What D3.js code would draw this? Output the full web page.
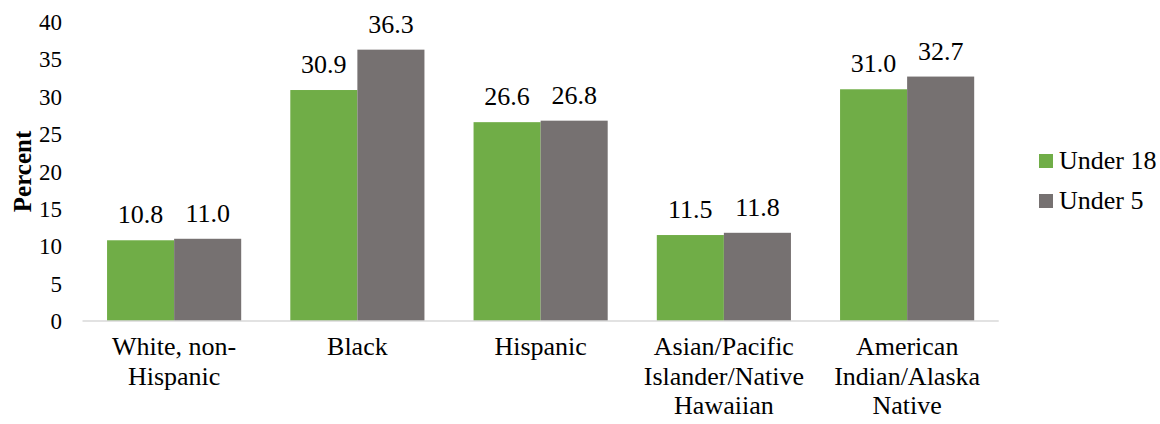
<html>
<head>
<meta charset="UTF-8">
<script src="https://d3js.org/d3.v7.min.js"></script>
</head>
<body style="margin:0">
<svg width="1160" height="424"></svg>
<script>
var categories = [["White, non-", "Hispanic"], ["Black"], ["Hispanic"],
                  ["Asian/Pacific", "Islander/Native", "Hawaiian"],
                  ["American", "Indian/Alaska", "Native"]];
var seriesNames = ["Under 18", "Under 5"];
var under18 = [10.8, 30.9, 26.6, 11.5, 31.0];
var under5 = [11.0, 36.3, 26.8, 11.8, 32.7];
var yTicks = [0, 5, 10, 15, 20, 25, 30, 35, 40];
var colors = ["#70ad47", "#767171"];
var FONT = "'Liberation Serif', 'Times New Roman', serif";

var svg = d3.select("svg");
var x0 = 82.5, x1 = 998.75, yTop = 22, yBot = 321;

var xscale = d3.scaleBand().domain(d3.range(categories.length)).range([x0, x1])
    .paddingInner(0.268).paddingOuter(0.134);
var inner = d3.scaleBand().domain([0, 1]).range([0, xscale.bandwidth()]);
var yscale = d3.scaleLinear().domain([0, 40]).range([yBot, yTop]);

// y tick labels
svg.append("g").selectAll("text").data(yTicks).enter().append("text")
    .attr("x", 62).attr("y", function(d){ return yscale(d) + 8; })
    .attr("text-anchor", "end")
    .style("font-family", FONT).style("font-size", "23px").text(function(d){ return d; });

svg.append("text").attr("transform", "translate(31," + yscale(20) + ") rotate(-90)")
    .attr("text-anchor", "middle").style("font-family", FONT)
    .style("font-size", "25px").style("font-weight", "bold")
    .text("Percent");

var data = [under18, under5];
data.forEach(function(vals, s){
  var g = svg.append("g");
  g.selectAll("rect").data(vals).enter().append("rect")
    .attr("x", function(d, i){ return xscale(i) + inner(s); })
    .attr("y", function(d){ return yscale(d); })
    .attr("width", inner.bandwidth())
    .attr("height", function(d){ return yBot - yscale(d); })
    .attr("fill", colors[s]);
  g.selectAll("text").data(vals).enter().append("text")
    .attr("x", function(d, i){ return xscale(i) + inner(s) + inner.bandwidth() / 2; })
    .attr("y", function(d){ return yscale(d) - 17; })
    .attr("text-anchor", "middle").style("font-family", FONT).style("font-size", "26px")
    .text(function(d){ return d.toFixed(1); });
});

// axis line
svg.append("line").attr("x1", x0).attr("x2", x1).attr("y1", yBot).attr("y2", yBot)
    .attr("stroke", "#d9d9d9").attr("stroke-width", 1.5);

// category labels
var cat = svg.append("g").selectAll("text").data(categories).enter().append("text")
    .attr("text-anchor", "middle").style("font-family", FONT).style("font-size", "26px")
    .attr("transform", function(d, i){ return "translate(" + (xscale(i) + xscale.bandwidth() / 2) + ",355)"; });
cat.selectAll("tspan").data(function(d){ return d; }).enter().append("tspan")
    .attr("x", 0).attr("y", function(d, i){ return i * 29.5; })
    .text(function(d){ return d; });

// legend
var leg = svg.append("g").selectAll("g").data(seriesNames).enter().append("g")
    .attr("transform", function(d, i){ return "translate(1039," + (169 + i * 40) + ")"; });
leg.append("rect").attr("x", 0).attr("y", -15).attr("width", 14).attr("height", 14)
    .attr("fill", function(d, i){ return colors[i]; });
leg.append("text").attr("x", 20).attr("y", 0)
    .style("font-family", FONT).style("font-size", "26px").text(function(d){ return d; });
</script>
</body>
</html>
